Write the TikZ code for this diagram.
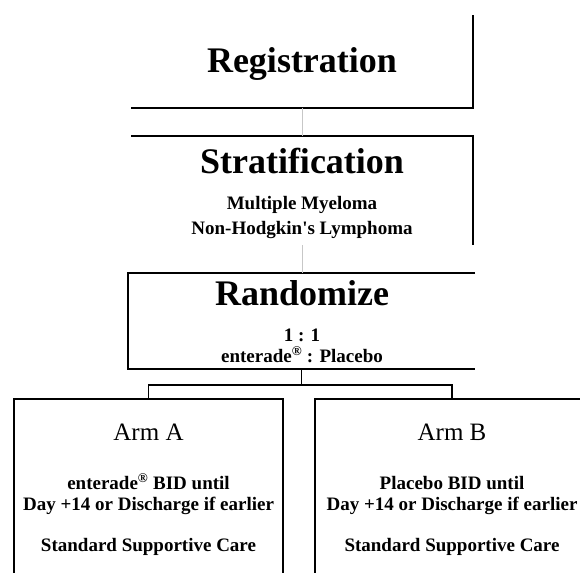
\documentclass[tikz,border=0pt]{standalone}
\usepackage{fontspec}
\setmainfont{Liberation Serif}

\begin{document}
\begin{tikzpicture}[x=1pt,y=-1pt,
  stage/.style={inner sep=0pt,outer sep=0pt},
  rim/.style={line width=1.6pt,black},
  link/.style={line width=1pt,black!22},
  split/.style={line width=1.6pt,black},
  head/.style={anchor=base,font=\fontsize{36}{40}\selectfont\bfseries},
  arm/.style={anchor=base,font=\fontsize{25}{28}\selectfont},
  info/.style={anchor=base,font=\fontsize{19}{21}\selectfont\bfseries}]
  \clip (0,0) rectangle (580,572);
  % Boxes
  \node[stage,minimum width=342pt,minimum height=93pt] (reg) at (302,61.5) {};
  \node[stage,minimum width=342pt,minimum height=109pt] (strat) at (302,190.5) {};
  \node[stage,minimum width=347pt,minimum height=96pt] (rand) at (301.5,321) {};
  \node[stage,minimum width=269pt,minimum height=200pt] (armA) at (148.5,499) {};
  \node[stage,minimum width=274pt,minimum height=200pt] (armB) at (452,499) {};
  \draw[rim] (reg.south west) -- (reg.south east) -- (reg.north east);
  \draw[rim] (strat.north west) -- (strat.north east) -- (strat.south east);
  \draw[rim] (rand.north east) -- (rand.north west) -- (rand.south west) -- (rand.south east);
  \foreach \a in {armA,armB}
    \draw[rim] (\a.south west) -- (\a.north west) -- (\a.north east) -- (\a.south east);
  % Connectors
  \draw[link] (reg.south) -- (strat.north);
  \draw[link] (strat.south) -- (strat.south |- rand.north);
  \draw[split] (rand.south) -- ++(0,16) -| (armA.north);
  \draw[split] (rand.south) -- ++(0,16) -| (armB.north);
  % Texts
  \node[head] (regT) at (302,73) {Registration};
  \node[head] (stratT) at (302,173) {Stratification};
  \node[info] (stratA) at (302,209) {Multiple Myeloma};
  \node[info] (stratB) at (302,234) {Non-Hodgkin\textquotesingle s Lymphoma};
  \node[head] (randT) at (302,305) {Randomize};
  \node[info] (ratioA) at (302,341) {1 : 1};
  \node[info] (ratioB) at (302,362) {enterade\textsuperscript{®} : Placebo};
  \node[arm] (armAT) at (148.5,440) {Arm A};
  \node[info] (armA1) at (148.5,489) {enterade\textsuperscript{®} BID until};
  \node[info] (armA2) at (148.5,510) {Day +14 or Discharge if earlier};
  \node[info] (armA3) at (148.5,551) {Standard Supportive Care};
  \node[arm] (armBT) at (452,440) {Arm B};
  \node[info] (armB1) at (452,489) {Placebo BID until};
  \node[info] (armB2) at (452,510) {Day +14 or Discharge if earlier};
  \node[info] (armB3) at (452,551) {Standard Supportive Care};
\end{tikzpicture}
\end{document}
